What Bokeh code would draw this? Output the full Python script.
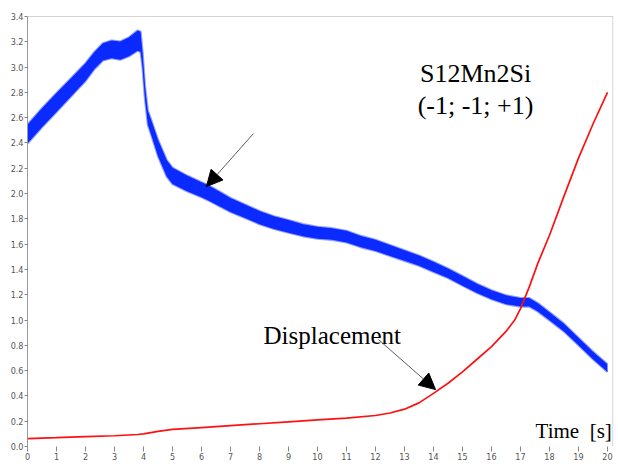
from bokeh.plotting import figure
from bokeh.models import (Range1d, FixedTicker, NumeralTickFormatter, Span, Label,
                          Arrow, NormalHead, ColumnDataSource)
from bokeh.embed import file_html
from bokeh.resources import INLINE

# Blue curve (centre of the noisy band) and its half thickness
blue_t = [0, 0.5, 1.0, 1.5, 2.0, 2.3, 2.6, 2.9, 3.2, 3.5, 3.8, 3.9, 3.97, 4.05, 4.15,
          4.3, 4.5, 4.8, 5.0, 5.5, 6.0, 6.2, 6.6, 7.0, 7.5, 8.0, 8.5, 9.0, 9.5, 10.0,
          10.5, 11.0, 11.5, 12.0, 12.5, 13.0, 13.5, 14.0, 14.5, 15.0, 15.5, 16.0,
          16.5, 17.0, 17.3, 17.6, 18.0, 18.5, 19.0, 19.5, 20.0]
blue_v = [2.47, 2.60, 2.72, 2.84, 2.96, 3.05, 3.12, 3.14, 3.13, 3.16, 3.21, 3.20, 3.05,
          2.80, 2.60, 2.50, 2.36, 2.20, 2.14, 2.08, 2.03, 2.01, 1.96, 1.91, 1.86, 1.81,
          1.77, 1.74, 1.71, 1.69, 1.68, 1.66, 1.62, 1.59, 1.55, 1.51, 1.47, 1.42, 1.37,
          1.31, 1.25, 1.20, 1.16, 1.14, 1.14, 1.10, 1.03, 0.94, 0.83, 0.72, 0.62]
blue_half = [0.075, 0.075, 0.075, 0.072, 0.07, 0.068, 0.068, 0.07, 0.072, 0.075, 0.08,
             0.08, 0.06, 0.05, 0.055, 0.06, 0.065, 0.065, 0.065, 0.062, 0.06, 0.06,
             0.058, 0.055, 0.053, 0.052, 0.05, 0.05, 0.048, 0.047, 0.046, 0.046, 0.045,
             0.044, 0.043, 0.042, 0.04, 0.04, 0.038, 0.038, 0.037, 0.036, 0.035, 0.034,
             0.034, 0.033, 0.032, 0.031, 0.03, 0.03, 0.03]

# Red curve: displacement
red_t = [0, 1, 2, 3, 3.8, 4.0, 4.5, 5.0, 6, 7, 8, 9, 10, 11, 12, 12.5, 13, 13.5, 14,
         14.5, 15, 15.5, 16, 16.5, 16.8, 17, 17.3, 17.6, 18, 18.5, 19, 19.5, 20]
red_v = [0.063, 0.07, 0.078, 0.085, 0.095, 0.10, 0.12, 0.135, 0.15, 0.165, 0.18, 0.195,
         0.21, 0.225, 0.245, 0.265, 0.295, 0.345, 0.42, 0.50, 0.59, 0.69, 0.79, 0.91,
         1.0, 1.09, 1.26, 1.45, 1.67, 1.98, 2.28, 2.55, 2.80]

x_ticks = list(range(0, 21))
y_ticks = [round(0.2 * i, 1) for i in range(0, 18)]

title_1 = "S12Mn2Si"
title_2 = "(-1; -1; +1)"
disp_label = "Displacement"
time_label = "Time\u00a0\u00a0[s]"

X_END = 20.207

blue_src = ColumnDataSource(dict(
    t=blue_t,
    lo=[v - h for v, h in zip(blue_v, blue_half)],
    hi=[v + h for v, h in zip(blue_v, blue_half)],
))

p = figure(width=618, height=464, output_backend="svg", toolbar_location=None,
           x_range=Range1d(0, X_END), y_range=Range1d(0, 3.4),
           min_border_left=27, min_border_right=5, min_border_top=16,
           min_border_bottom=18, background_fill_color="white",
           border_fill_color="white", outline_line_color=None)
p.grid.visible = False

BLUE = "#0a2aff"
p.varea(x="t", y1="lo", y2="hi", source=blue_src, fill_color=BLUE)
# soft fuzzy edges of the band
p.line(x="t", y="lo", source=blue_src, line_color=BLUE, line_alpha=0.45, line_width=2.2)
p.line(x="t", y="hi", source=blue_src, line_color=BLUE, line_alpha=0.45, line_width=2.2)
p.line(red_t, red_v, line_color="#ff1010", line_width=1.7)

tick_font = "'Liberation Sans Narrow', 'DejaVu Sans Condensed', 'Liberation Sans', sans-serif"

# axes
yax = p.yaxis[0]
yax.ticker = FixedTicker(ticks=y_ticks)
yax.formatter = NumeralTickFormatter(format="0.0")
yax.axis_line_color = "#999999"
yax.major_tick_line_color = "#888888"
yax.major_tick_out = 3
yax.major_tick_in = 0
yax.minor_tick_line_color = None
yax.major_label_standoff = 1
yax.major_label_text_font = tick_font
yax.major_label_text_font_size = "9px"
yax.major_label_text_color = "#555555"

xax = p.xaxis[0]
xax.ticker = FixedTicker(ticks=x_ticks)
xax.axis_line_color = None
xax.major_tick_line_color = "#888888"
xax.major_tick_out = 5
xax.major_tick_in = 0
xax.minor_tick_line_color = None
xax.major_label_standoff = 1
xax.major_label_text_font = tick_font
xax.major_label_text_font_size = "9px"
xax.major_label_text_color = "#555555"

# frame lines (top and right)
p.add_layout(Span(location=3.4, dimension="width", line_color="#aaaaaa", line_width=1))
p.add_layout(Span(location=X_END - 0.02, dimension="height", line_color="#cccccc",
                  line_width=1))

# annotations
serif = "Liberation Serif"
p.add_layout(Label(x=15.45, y=2.95, text=title_1, text_font=serif, text_font_size="26px",
                   text_align="center", text_baseline="alphabetic", text_color="black"))
p.add_layout(Label(x=15.45, y=2.70, text=title_2, text_font=serif, text_font_size="26px",
                   text_align="center", text_baseline="alphabetic", text_color="black"))
p.add_layout(Label(x=8.14, y=0.877, text=disp_label, text_font=serif, text_font_size="25px",
                   text_align="left", text_baseline="alphabetic", text_color="black"))
p.add_layout(Label(x=20.15, y=0.12, text=time_label, text_font=serif, text_font_size="21px",
                   text_align="right", text_baseline="alphabetic", text_color="black"))

p.add_layout(Arrow(end=NormalHead(size=16, fill_color="black", line_color="black"),
                   x_start=7.79, y_start=2.474, x_end=6.17, y_end=2.055,
                   line_color="#333333", line_width=0.8))
p.add_layout(Arrow(end=NormalHead(size=16, fill_color="black", line_color="black"),
                   x_start=12.1, y_start=0.846, x_end=14.07, y_end=0.45,
                   line_color="#333333", line_width=0.8))

open("out.html", "w").write(file_html(p, INLINE))
